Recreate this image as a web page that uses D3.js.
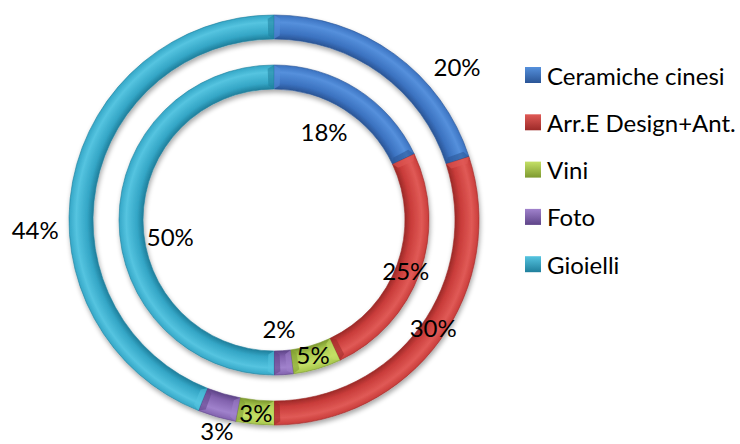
<!DOCTYPE html>
<html><head><meta charset="utf-8">
<script src="https://cdn.jsdelivr.net/npm/d3@7"></script>
<style>body{margin:0;background:#fff;} svg{display:block;} text{font-family:Lato,"Noto Sans",sans-serif;fill:#000;}</style>
</head><body><svg id="c" width="740" height="444"></svg>
<script>
const categories = ["Ceramiche cinesi","Arr.E Design+Ant.","Vini","Foto","Gioielli"];
const outerValues = [20,30,3,3,44];
const innerValues = [18,25,5,2,50];
const colors = ["#3b72c0","#c93c3a","#a6c64c","#8262ae","#34a6c6"];
const darkColors = ["#2a5596","#9c2a28","#7e9a30","#5e4488","#1f7f9c"];
const lightColors = ["#5590dc","#e05a56","#c4e066","#a082cc","#55c4e0"];
// label placement tweaks (angle offset deg, radius) per ring
const outerLabelPlace = [[14,239],[-2,192],[0,193],[-1,218],[-13,239]];
const innerLabelPlace = [[-3,102],[1,141],[0,140],[1,109],[-9,105]];

const svg = d3.select("#c");
const cx = 274, cy = 220;
const defs = svg.append("defs");
const f = defs.append("filter").attr("id","sh").attr("x","-20%").attr("y","-20%").attr("width","140%").attr("height","140%");
f.append("feGaussianBlur").attr("in","SourceAlpha").attr("stdDeviation",2.5);
f.append("feOffset").attr("dx",1).attr("dy",3).attr("result","b");
f.append("feComponentTransfer").append("feFuncA").attr("type","linear").attr("slope",0.35);
const m = f.append("feMerge"); m.append("feMergeNode"); m.append("feMergeNode").attr("in","SourceGraphic");

const g = svg.append("g").attr("transform",`translate(${cx},${cy})`);
const pie = d3.pie().sort(null).value(d=>d);

function ring(values, r0, r1, key, place){
  colors.forEach((c,i)=>{
    const gr = defs.append("radialGradient").attr("id",`g${key}${i}`)
      .attr("gradientUnits","userSpaceOnUse").attr("cx",0).attr("cy",0).attr("r",r1);
    const a = r0/r1;
    gr.append("stop").attr("offset",a).attr("stop-color",darkColors[i]);
    gr.append("stop").attr("offset",a+(1-a)*0.25).attr("stop-color",colors[i]);
    gr.append("stop").attr("offset",a+(1-a)*0.7).attr("stop-color",lightColors[i]);
    gr.append("stop").attr("offset",1).attr("stop-color",colors[i]);
  });
  const arcs = pie(values);
  const arc = d3.arc().innerRadius(r0).outerRadius(r1);
  const rg = g.append("g").attr("filter","url(#sh)");
  rg.selectAll("path").data(arcs).join("path")
    .attr("d",arc).attr("fill",(d,i)=>`url(#g${key}${i})`)
    .attr("stroke",(d,i)=>darkColors[i]).attr("stroke-width",0.6);
  const bev = 6;
  arcs.forEach((d,i)=>{
    [d.startAngle, d.endAngle].forEach((ang,k)=>{
      const dir = k===0?1:-1;
      const rm = (r0+r1)/2;
      const da = dir*bev/rm;
      const P = (r,a)=>[r*Math.sin(a), -r*Math.cos(a)];
      const p1=P(r0,ang), p2=P(r1,ang), p3=P(r1-bev*0.6,ang+da), p4=P(r0+bev*0.6,ang+da);
      rg.append("path").attr("d",`M${p1}L${p2}L${p3}L${p4}Z`)
        .attr("fill",k===0?lightColors[i]:darkColors[i]).attr("opacity",0.55);
    });
  });
  const lg = g.append("g");
  arcs.forEach((d,i)=>{
    const pl = place[i]; if(!pl) return;
    const mid = (d.startAngle+d.endAngle)/2 + pl[0]*Math.PI/180;
    lg.append("text").attr("x",pl[1]*Math.sin(mid)).attr("y",-pl[1]*Math.cos(mid))
      .attr("text-anchor","middle").attr("dominant-baseline","central")
      .attr("font-size",24).text(values[i]+"%");
  });
}
ring(outerValues,181,205,"o",outerLabelPlace);
ring(innerValues,131,155,"i",innerLabelPlace);

const leg = svg.append("g").attr("transform","translate(525,75)");
categories.forEach((c,i)=>{
  const y = i*47.3;
  const gr = defs.append("linearGradient").attr("id",`lg${i}`).attr("x1",0).attr("y1",0).attr("x2",0).attr("y2",1);
  gr.append("stop").attr("offset",0).attr("stop-color",lightColors[i]);
  gr.append("stop").attr("offset",1).attr("stop-color",darkColors[i]);
  leg.append("rect").attr("x",0).attr("y",y-8).attr("width",16).attr("height",16).attr("fill",`url(#lg${i})`);
  leg.append("text").attr("x",22).attr("y",y).attr("dominant-baseline","central").attr("font-size",24).text(c);
});
</script></body></html>
